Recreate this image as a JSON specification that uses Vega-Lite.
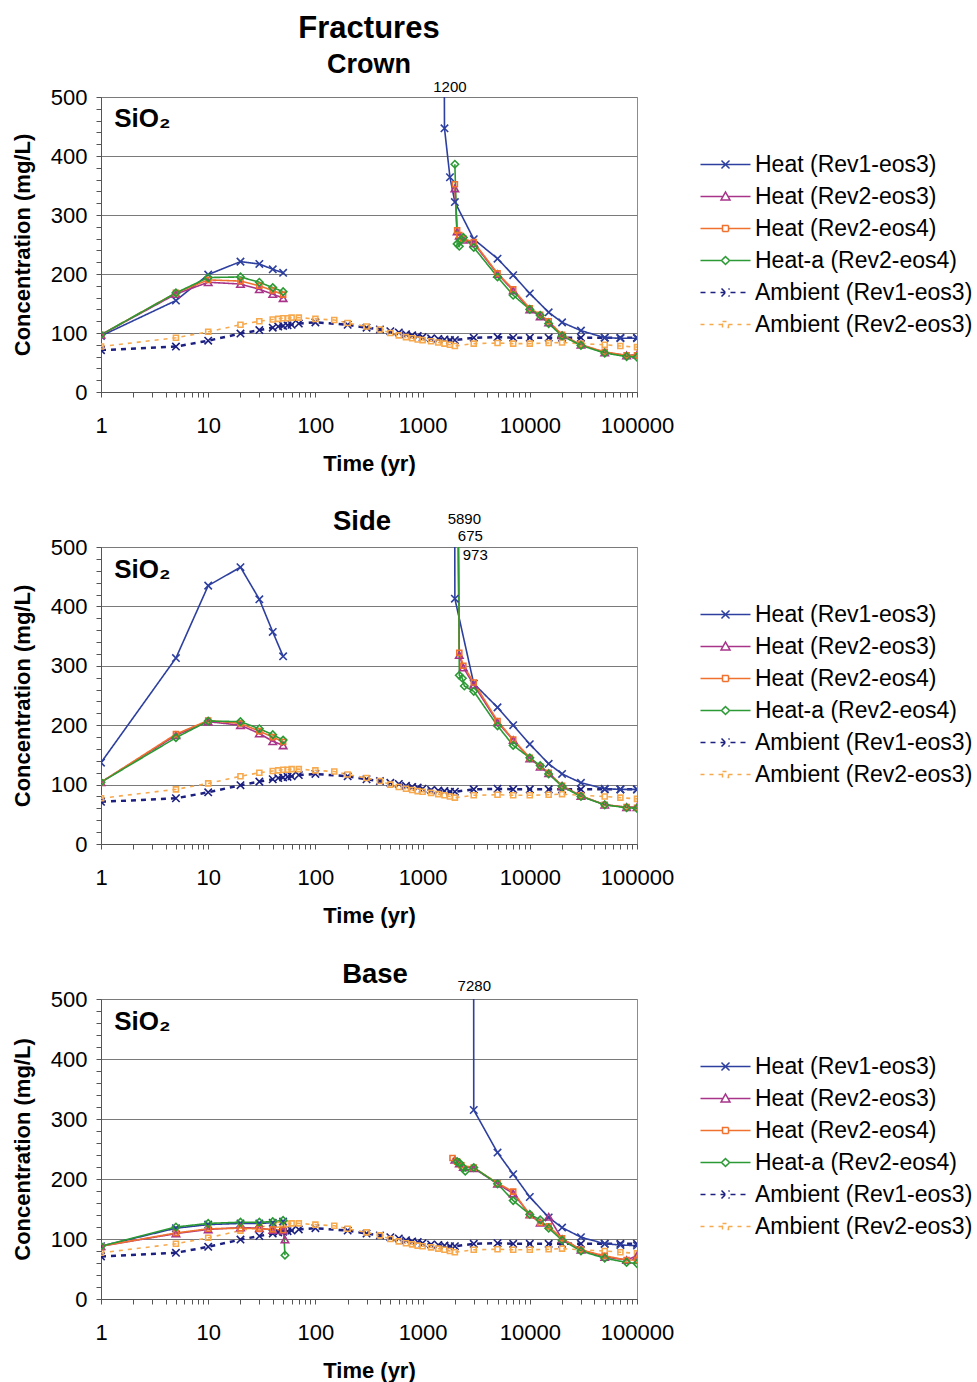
{
"$schema": "https://vega.github.io/schema/vega-lite/v6.json",
"padding": {"left": 10, "top": 12, "right": 0, "bottom": 0},
"background": "white",
"bounds": "flush",
"spacing": 155,
"config": {
  "font": "Liberation Sans",
  "view": {"stroke": "#8c8c8c", "strokeWidth": 1},
  "axis": {"labelFont": "Liberation Sans", "labelFontSize": 22, "labelColor": "#000", "titleFont": "Liberation Sans", "titleFontSize": 22, "titleFontWeight": "bold", "titleColor": "#000", "domainColor": "#555", "tickColor": "#555", "grid": false},
  "title": {"font": "Liberation Sans", "fontWeight": "bold", "color": "#000", "anchor": "middle", "frame": "group", "subtitleFont": "Liberation Sans", "subtitleColor": "#000", "subtitleFontWeight": "bold"},
  "text": {"font": "Liberation Sans", "color": "#000"}
},
"datasets": {
"ann": [
{"p":"crown","t":1800,"c":517,"label":"1200"},
{"p":"side","t":2450,"c":547,"label":"5890"},
{"p":"side","t":2790,"c":518,"label":"675"},
{"p":"side","t":3100,"c":487,"label":"973"},
{"p":"base","t":3035,"c":522,"label":"7280"}
],
"d": [
{"p":"all","s":"Ambient (Rev1-eos3)","g":"a","t":1,"c":71},
{"p":"all","s":"Ambient (Rev1-eos3)","g":"a","t":5,"c":77},
{"p":"all","s":"Ambient (Rev1-eos3)","g":"a","t":10,"c":87},
{"p":"all","s":"Ambient (Rev1-eos3)","g":"a","t":20,"c":99},
{"p":"all","s":"Ambient (Rev1-eos3)","g":"a","t":30,"c":105},
{"p":"all","s":"Ambient (Rev1-eos3)","g":"a","t":40,"c":109},
{"p":"all","s":"Ambient (Rev1-eos3)","g":"a","t":45,"c":111},
{"p":"all","s":"Ambient (Rev1-eos3)","g":"a","t":50,"c":112},
{"p":"all","s":"Ambient (Rev1-eos3)","g":"a","t":55,"c":113},
{"p":"all","s":"Ambient (Rev1-eos3)","g":"a","t":60,"c":114},
{"p":"all","s":"Ambient (Rev1-eos3)","g":"a","t":70,"c":116},
{"p":"all","s":"Ambient (Rev1-eos3)","g":"a","t":100,"c":118},
{"p":"all","s":"Ambient (Rev1-eos3)","g":"a","t":200,"c":114},
{"p":"all","s":"Ambient (Rev1-eos3)","g":"a","t":300,"c":109},
{"p":"all","s":"Ambient (Rev1-eos3)","g":"a","t":400,"c":106},
{"p":"all","s":"Ambient (Rev1-eos3)","g":"a","t":500,"c":103},
{"p":"all","s":"Ambient (Rev1-eos3)","g":"a","t":600,"c":101},
{"p":"all","s":"Ambient (Rev1-eos3)","g":"a","t":700,"c":98},
{"p":"all","s":"Ambient (Rev1-eos3)","g":"a","t":800,"c":96},
{"p":"all","s":"Ambient (Rev1-eos3)","g":"a","t":900,"c":95},
{"p":"all","s":"Ambient (Rev1-eos3)","g":"a","t":1000,"c":93},
{"p":"all","s":"Ambient (Rev1-eos3)","g":"a","t":1200,"c":91},
{"p":"all","s":"Ambient (Rev1-eos3)","g":"a","t":1400,"c":90},
{"p":"all","s":"Ambient (Rev1-eos3)","g":"a","t":1600,"c":89},
{"p":"all","s":"Ambient (Rev1-eos3)","g":"a","t":1800,"c":88},
{"p":"all","s":"Ambient (Rev1-eos3)","g":"a","t":2000,"c":88},
{"p":"all","s":"Ambient (Rev1-eos3)","g":"a","t":3000,"c":92},
{"p":"all","s":"Ambient (Rev1-eos3)","g":"a","t":5000,"c":93},
{"p":"all","s":"Ambient (Rev1-eos3)","g":"a","t":7000,"c":92},
{"p":"all","s":"Ambient (Rev1-eos3)","g":"a","t":10000,"c":92},
{"p":"all","s":"Ambient (Rev1-eos3)","g":"a","t":15000,"c":92},
{"p":"all","s":"Ambient (Rev1-eos3)","g":"a","t":20000,"c":92},
{"p":"all","s":"Ambient (Rev1-eos3)","g":"a","t":30000,"c":92},
{"p":"all","s":"Ambient (Rev1-eos3)","g":"a","t":50000,"c":92},
{"p":"all","s":"Ambient (Rev1-eos3)","g":"a","t":70000,"c":92},
{"p":"all","s":"Ambient (Rev1-eos3)","g":"a","t":100000,"c":92},
{"p":"all","s":"Ambient (Rev2-eos3)","g":"a","t":1,"c":77},
{"p":"all","s":"Ambient (Rev2-eos3)","g":"a","t":5,"c":92},
{"p":"all","s":"Ambient (Rev2-eos3)","g":"a","t":10,"c":102},
{"p":"all","s":"Ambient (Rev2-eos3)","g":"a","t":20,"c":114},
{"p":"all","s":"Ambient (Rev2-eos3)","g":"a","t":30,"c":120},
{"p":"all","s":"Ambient (Rev2-eos3)","g":"a","t":40,"c":123},
{"p":"all","s":"Ambient (Rev2-eos3)","g":"a","t":45,"c":124},
{"p":"all","s":"Ambient (Rev2-eos3)","g":"a","t":50,"c":125},
{"p":"all","s":"Ambient (Rev2-eos3)","g":"a","t":55,"c":125},
{"p":"all","s":"Ambient (Rev2-eos3)","g":"a","t":60,"c":126},
{"p":"all","s":"Ambient (Rev2-eos3)","g":"a","t":70,"c":126},
{"p":"all","s":"Ambient (Rev2-eos3)","g":"a","t":100,"c":124},
{"p":"all","s":"Ambient (Rev2-eos3)","g":"a","t":150,"c":122},
{"p":"all","s":"Ambient (Rev2-eos3)","g":"a","t":200,"c":117},
{"p":"all","s":"Ambient (Rev2-eos3)","g":"a","t":300,"c":111},
{"p":"all","s":"Ambient (Rev2-eos3)","g":"a","t":400,"c":106},
{"p":"all","s":"Ambient (Rev2-eos3)","g":"a","t":500,"c":100},
{"p":"all","s":"Ambient (Rev2-eos3)","g":"a","t":600,"c":96},
{"p":"all","s":"Ambient (Rev2-eos3)","g":"a","t":700,"c":93},
{"p":"all","s":"Ambient (Rev2-eos3)","g":"a","t":800,"c":91},
{"p":"all","s":"Ambient (Rev2-eos3)","g":"a","t":900,"c":89},
{"p":"all","s":"Ambient (Rev2-eos3)","g":"a","t":1000,"c":88},
{"p":"all","s":"Ambient (Rev2-eos3)","g":"a","t":1200,"c":86},
{"p":"all","s":"Ambient (Rev2-eos3)","g":"a","t":1400,"c":84},
{"p":"all","s":"Ambient (Rev2-eos3)","g":"a","t":1600,"c":82},
{"p":"all","s":"Ambient (Rev2-eos3)","g":"a","t":1800,"c":80},
{"p":"all","s":"Ambient (Rev2-eos3)","g":"a","t":2000,"c":78},
{"p":"all","s":"Ambient (Rev2-eos3)","g":"a","t":3000,"c":82},
{"p":"all","s":"Ambient (Rev2-eos3)","g":"a","t":5000,"c":83},
{"p":"all","s":"Ambient (Rev2-eos3)","g":"a","t":7000,"c":82},
{"p":"all","s":"Ambient (Rev2-eos3)","g":"a","t":10000,"c":82},
{"p":"all","s":"Ambient (Rev2-eos3)","g":"a","t":15000,"c":83},
{"p":"all","s":"Ambient (Rev2-eos3)","g":"a","t":20000,"c":84},
{"p":"all","s":"Ambient (Rev2-eos3)","g":"a","t":30000,"c":82},
{"p":"all","s":"Ambient (Rev2-eos3)","g":"a","t":50000,"c":80},
{"p":"all","s":"Ambient (Rev2-eos3)","g":"a","t":70000,"c":78},
{"p":"all","s":"Ambient (Rev2-eos3)","g":"a","t":100000,"c":76},

{"p":"crown","s":"Heat (Rev1-eos3)","g":"a","t":1,"c":95},
{"p":"crown","s":"Heat (Rev1-eos3)","g":"a","t":5,"c":155},
{"p":"crown","s":"Heat (Rev1-eos3)","g":"a","t":10,"c":199},
{"p":"crown","s":"Heat (Rev1-eos3)","g":"a","t":20,"c":221},
{"p":"crown","s":"Heat (Rev1-eos3)","g":"a","t":30,"c":217},
{"p":"crown","s":"Heat (Rev1-eos3)","g":"a","t":40,"c":208},
{"p":"crown","s":"Heat (Rev1-eos3)","g":"a","t":50,"c":202},
{"p":"crown","s":"Heat (Rev1-eos3)","g":"b","t":1550,"c":1200},
{"p":"crown","s":"Heat (Rev1-eos3)","g":"b","t":1600,"c":447},
{"p":"crown","s":"Heat (Rev1-eos3)","g":"b","t":1800,"c":364},
{"p":"crown","s":"Heat (Rev1-eos3)","g":"b","t":2000,"c":322},
{"p":"crown","s":"Heat (Rev1-eos3)","g":"b","t":3000,"c":259},
{"p":"crown","s":"Heat (Rev1-eos3)","g":"b","t":5000,"c":226},
{"p":"crown","s":"Heat (Rev1-eos3)","g":"b","t":7000,"c":198},
{"p":"crown","s":"Heat (Rev1-eos3)","g":"b","t":10000,"c":167},
{"p":"crown","s":"Heat (Rev1-eos3)","g":"b","t":15000,"c":135},
{"p":"crown","s":"Heat (Rev1-eos3)","g":"b","t":20000,"c":118},
{"p":"crown","s":"Heat (Rev1-eos3)","g":"b","t":30000,"c":104},
{"p":"crown","s":"Heat (Rev1-eos3)","g":"b","t":50000,"c":92},
{"p":"crown","s":"Heat (Rev1-eos3)","g":"b","t":70000,"c":91},
{"p":"crown","s":"Heat (Rev1-eos3)","g":"b","t":100000,"c":91},
{"p":"crown","s":"Heat (Rev2-eos3)","g":"a","t":1,"c":97},
{"p":"crown","s":"Heat (Rev2-eos3)","g":"a","t":5,"c":166},
{"p":"crown","s":"Heat (Rev2-eos3)","g":"a","t":10,"c":186},
{"p":"crown","s":"Heat (Rev2-eos3)","g":"a","t":20,"c":183},
{"p":"crown","s":"Heat (Rev2-eos3)","g":"a","t":30,"c":174},
{"p":"crown","s":"Heat (Rev2-eos3)","g":"a","t":40,"c":166},
{"p":"crown","s":"Heat (Rev2-eos3)","g":"a","t":50,"c":159},
{"p":"crown","s":"Heat (Rev2-eos3)","g":"b","t":2000,"c":345},
{"p":"crown","s":"Heat (Rev2-eos3)","g":"b","t":2100,"c":272},
{"p":"crown","s":"Heat (Rev2-eos3)","g":"b","t":2200,"c":265},
{"p":"crown","s":"Heat (Rev2-eos3)","g":"b","t":2400,"c":258},
{"p":"crown","s":"Heat (Rev2-eos3)","g":"b","t":3000,"c":252},
{"p":"crown","s":"Heat (Rev2-eos3)","g":"b","t":5000,"c":200},
{"p":"crown","s":"Heat (Rev2-eos3)","g":"b","t":7000,"c":172},
{"p":"crown","s":"Heat (Rev2-eos3)","g":"b","t":10000,"c":140},
{"p":"crown","s":"Heat (Rev2-eos3)","g":"b","t":12500,"c":128},
{"p":"crown","s":"Heat (Rev2-eos3)","g":"b","t":15000,"c":118},
{"p":"crown","s":"Heat (Rev2-eos3)","g":"b","t":20000,"c":96},
{"p":"crown","s":"Heat (Rev2-eos3)","g":"b","t":30000,"c":80},
{"p":"crown","s":"Heat (Rev2-eos3)","g":"b","t":50000,"c":67},
{"p":"crown","s":"Heat (Rev2-eos3)","g":"b","t":80000,"c":62},
{"p":"crown","s":"Heat (Rev2-eos3)","g":"b","t":100000,"c":63},
{"p":"crown","s":"Heat (Rev2-eos4)","g":"a","t":1,"c":97},
{"p":"crown","s":"Heat (Rev2-eos4)","g":"a","t":5,"c":168},
{"p":"crown","s":"Heat (Rev2-eos4)","g":"a","t":10,"c":190},
{"p":"crown","s":"Heat (Rev2-eos4)","g":"a","t":20,"c":188},
{"p":"crown","s":"Heat (Rev2-eos4)","g":"a","t":30,"c":180},
{"p":"crown","s":"Heat (Rev2-eos4)","g":"a","t":40,"c":172},
{"p":"crown","s":"Heat (Rev2-eos4)","g":"a","t":50,"c":165},
{"p":"crown","s":"Heat (Rev2-eos4)","g":"b","t":2000,"c":352},
{"p":"crown","s":"Heat (Rev2-eos4)","g":"b","t":2100,"c":274},
{"p":"crown","s":"Heat (Rev2-eos4)","g":"b","t":2200,"c":266},
{"p":"crown","s":"Heat (Rev2-eos4)","g":"b","t":2400,"c":260},
{"p":"crown","s":"Heat (Rev2-eos4)","g":"b","t":3000,"c":254},
{"p":"crown","s":"Heat (Rev2-eos4)","g":"b","t":5000,"c":201},
{"p":"crown","s":"Heat (Rev2-eos4)","g":"b","t":7000,"c":174},
{"p":"crown","s":"Heat (Rev2-eos4)","g":"b","t":10000,"c":142},
{"p":"crown","s":"Heat (Rev2-eos4)","g":"b","t":12500,"c":131},
{"p":"crown","s":"Heat (Rev2-eos4)","g":"b","t":15000,"c":120},
{"p":"crown","s":"Heat (Rev2-eos4)","g":"b","t":20000,"c":97},
{"p":"crown","s":"Heat (Rev2-eos4)","g":"b","t":30000,"c":80},
{"p":"crown","s":"Heat (Rev2-eos4)","g":"b","t":50000,"c":68},
{"p":"crown","s":"Heat (Rev2-eos4)","g":"b","t":80000,"c":62},
{"p":"crown","s":"Heat (Rev2-eos4)","g":"b","t":100000,"c":62},
{"p":"crown","s":"Heat-a (Rev2-eos4)","g":"a","t":1,"c":97},
{"p":"crown","s":"Heat-a (Rev2-eos4)","g":"a","t":5,"c":168},
{"p":"crown","s":"Heat-a (Rev2-eos4)","g":"a","t":10,"c":194},
{"p":"crown","s":"Heat-a (Rev2-eos4)","g":"a","t":20,"c":195},
{"p":"crown","s":"Heat-a (Rev2-eos4)","g":"a","t":30,"c":186},
{"p":"crown","s":"Heat-a (Rev2-eos4)","g":"a","t":40,"c":177},
{"p":"crown","s":"Heat-a (Rev2-eos4)","g":"a","t":50,"c":170},
{"p":"crown","s":"Heat-a (Rev2-eos4)","g":"b","t":2000,"c":386},
{"p":"crown","s":"Heat-a (Rev2-eos4)","g":"b","t":2100,"c":251},
{"p":"crown","s":"Heat-a (Rev2-eos4)","g":"b","t":2200,"c":247},
{"p":"crown","s":"Heat-a (Rev2-eos4)","g":"b","t":2300,"c":258},
{"p":"crown","s":"Heat-a (Rev2-eos4)","g":"b","t":2400,"c":262},
{"p":"crown","s":"Heat-a (Rev2-eos4)","g":"b","t":3000,"c":245},
{"p":"crown","s":"Heat-a (Rev2-eos4)","g":"b","t":5000,"c":195},
{"p":"crown","s":"Heat-a (Rev2-eos4)","g":"b","t":7000,"c":164},
{"p":"crown","s":"Heat-a (Rev2-eos4)","g":"b","t":10000,"c":140},
{"p":"crown","s":"Heat-a (Rev2-eos4)","g":"b","t":12500,"c":130},
{"p":"crown","s":"Heat-a (Rev2-eos4)","g":"b","t":15000,"c":116},
{"p":"crown","s":"Heat-a (Rev2-eos4)","g":"b","t":20000,"c":95},
{"p":"crown","s":"Heat-a (Rev2-eos4)","g":"b","t":30000,"c":79},
{"p":"crown","s":"Heat-a (Rev2-eos4)","g":"b","t":50000,"c":66},
{"p":"crown","s":"Heat-a (Rev2-eos4)","g":"b","t":80000,"c":60},
{"p":"crown","s":"Heat-a (Rev2-eos4)","g":"b","t":100000,"c":59},

{"p":"side","s":"Heat (Rev1-eos3)","g":"a","t":1,"c":137},
{"p":"side","s":"Heat (Rev1-eos3)","g":"a","t":5,"c":313},
{"p":"side","s":"Heat (Rev1-eos3)","g":"a","t":10,"c":435},
{"p":"side","s":"Heat (Rev1-eos3)","g":"a","t":20,"c":466},
{"p":"side","s":"Heat (Rev1-eos3)","g":"a","t":30,"c":412},
{"p":"side","s":"Heat (Rev1-eos3)","g":"a","t":40,"c":357},
{"p":"side","s":"Heat (Rev1-eos3)","g":"a","t":50,"c":316},
{"p":"side","s":"Heat (Rev1-eos3)","g":"b","t":1800,"c":5890},
{"p":"side","s":"Heat (Rev1-eos3)","g":"b","t":2000,"c":413},
{"p":"side","s":"Heat (Rev1-eos3)","g":"b","t":3000,"c":270},
{"p":"side","s":"Heat (Rev1-eos3)","g":"b","t":5000,"c":230},
{"p":"side","s":"Heat (Rev1-eos3)","g":"b","t":7000,"c":200},
{"p":"side","s":"Heat (Rev1-eos3)","g":"b","t":10000,"c":168},
{"p":"side","s":"Heat (Rev1-eos3)","g":"b","t":15000,"c":135},
{"p":"side","s":"Heat (Rev1-eos3)","g":"b","t":20000,"c":118},
{"p":"side","s":"Heat (Rev1-eos3)","g":"b","t":30000,"c":103},
{"p":"side","s":"Heat (Rev1-eos3)","g":"b","t":50000,"c":93},
{"p":"side","s":"Heat (Rev1-eos3)","g":"b","t":70000,"c":92},
{"p":"side","s":"Heat (Rev1-eos3)","g":"b","t":100000,"c":92},
{"p":"side","s":"Heat (Rev2-eos3)","g":"a","t":1,"c":104},
{"p":"side","s":"Heat (Rev2-eos3)","g":"a","t":5,"c":183},
{"p":"side","s":"Heat (Rev2-eos3)","g":"a","t":10,"c":206},
{"p":"side","s":"Heat (Rev2-eos3)","g":"a","t":20,"c":200},
{"p":"side","s":"Heat (Rev2-eos3)","g":"a","t":30,"c":186},
{"p":"side","s":"Heat (Rev2-eos3)","g":"a","t":40,"c":173},
{"p":"side","s":"Heat (Rev2-eos3)","g":"a","t":50,"c":166},
{"p":"side","s":"Heat (Rev2-eos3)","g":"b","t":2100,"c":675},
{"p":"side","s":"Heat (Rev2-eos3)","g":"b","t":2200,"c":318},
{"p":"side","s":"Heat (Rev2-eos3)","g":"b","t":2400,"c":297},
{"p":"side","s":"Heat (Rev2-eos3)","g":"b","t":3000,"c":268},
{"p":"side","s":"Heat (Rev2-eos3)","g":"b","t":5000,"c":205},
{"p":"side","s":"Heat (Rev2-eos3)","g":"b","t":7000,"c":175},
{"p":"side","s":"Heat (Rev2-eos3)","g":"b","t":10000,"c":144},
{"p":"side","s":"Heat (Rev2-eos3)","g":"b","t":12500,"c":130},
{"p":"side","s":"Heat (Rev2-eos3)","g":"b","t":15000,"c":119},
{"p":"side","s":"Heat (Rev2-eos3)","g":"b","t":20000,"c":98},
{"p":"side","s":"Heat (Rev2-eos3)","g":"b","t":30000,"c":81},
{"p":"side","s":"Heat (Rev2-eos3)","g":"b","t":50000,"c":66},
{"p":"side","s":"Heat (Rev2-eos3)","g":"b","t":80000,"c":62},
{"p":"side","s":"Heat (Rev2-eos3)","g":"b","t":100000,"c":62},
{"p":"side","s":"Heat (Rev2-eos4)","g":"a","t":1,"c":104},
{"p":"side","s":"Heat (Rev2-eos4)","g":"a","t":5,"c":185},
{"p":"side","s":"Heat (Rev2-eos4)","g":"a","t":10,"c":208},
{"p":"side","s":"Heat (Rev2-eos4)","g":"a","t":20,"c":203},
{"p":"side","s":"Heat (Rev2-eos4)","g":"a","t":30,"c":190},
{"p":"side","s":"Heat (Rev2-eos4)","g":"a","t":40,"c":180},
{"p":"side","s":"Heat (Rev2-eos4)","g":"a","t":50,"c":172},
{"p":"side","s":"Heat (Rev2-eos4)","g":"b","t":2100,"c":660},
{"p":"side","s":"Heat (Rev2-eos4)","g":"b","t":2200,"c":322},
{"p":"side","s":"Heat (Rev2-eos4)","g":"b","t":2400,"c":300},
{"p":"side","s":"Heat (Rev2-eos4)","g":"b","t":3000,"c":272},
{"p":"side","s":"Heat (Rev2-eos4)","g":"b","t":5000,"c":207},
{"p":"side","s":"Heat (Rev2-eos4)","g":"b","t":7000,"c":176},
{"p":"side","s":"Heat (Rev2-eos4)","g":"b","t":10000,"c":145},
{"p":"side","s":"Heat (Rev2-eos4)","g":"b","t":12500,"c":131},
{"p":"side","s":"Heat (Rev2-eos4)","g":"b","t":15000,"c":120},
{"p":"side","s":"Heat (Rev2-eos4)","g":"b","t":20000,"c":98},
{"p":"side","s":"Heat (Rev2-eos4)","g":"b","t":30000,"c":81},
{"p":"side","s":"Heat (Rev2-eos4)","g":"b","t":50000,"c":66},
{"p":"side","s":"Heat (Rev2-eos4)","g":"b","t":80000,"c":62},
{"p":"side","s":"Heat (Rev2-eos4)","g":"b","t":100000,"c":61},
{"p":"side","s":"Heat-a (Rev2-eos4)","g":"a","t":1,"c":104},
{"p":"side","s":"Heat-a (Rev2-eos4)","g":"a","t":5,"c":179},
{"p":"side","s":"Heat-a (Rev2-eos4)","g":"a","t":10,"c":207},
{"p":"side","s":"Heat-a (Rev2-eos4)","g":"a","t":20,"c":206},
{"p":"side","s":"Heat-a (Rev2-eos4)","g":"a","t":30,"c":194},
{"p":"side","s":"Heat-a (Rev2-eos4)","g":"a","t":40,"c":184},
{"p":"side","s":"Heat-a (Rev2-eos4)","g":"a","t":50,"c":175},
{"p":"side","s":"Heat-a (Rev2-eos4)","g":"b","t":2100,"c":973},
{"p":"side","s":"Heat-a (Rev2-eos4)","g":"b","t":2200,"c":284},
{"p":"side","s":"Heat-a (Rev2-eos4)","g":"b","t":2350,"c":279},
{"p":"side","s":"Heat-a (Rev2-eos4)","g":"b","t":2450,"c":266},
{"p":"side","s":"Heat-a (Rev2-eos4)","g":"b","t":3000,"c":257},
{"p":"side","s":"Heat-a (Rev2-eos4)","g":"b","t":5000,"c":199},
{"p":"side","s":"Heat-a (Rev2-eos4)","g":"b","t":7000,"c":166},
{"p":"side","s":"Heat-a (Rev2-eos4)","g":"b","t":10000,"c":145},
{"p":"side","s":"Heat-a (Rev2-eos4)","g":"b","t":12500,"c":132},
{"p":"side","s":"Heat-a (Rev2-eos4)","g":"b","t":15000,"c":118},
{"p":"side","s":"Heat-a (Rev2-eos4)","g":"b","t":20000,"c":97},
{"p":"side","s":"Heat-a (Rev2-eos4)","g":"b","t":30000,"c":80},
{"p":"side","s":"Heat-a (Rev2-eos4)","g":"b","t":50000,"c":66},
{"p":"side","s":"Heat-a (Rev2-eos4)","g":"b","t":80000,"c":61},
{"p":"side","s":"Heat-a (Rev2-eos4)","g":"b","t":100000,"c":60},

{"p":"base","s":"Heat (Rev1-eos3)","g":"a","t":1,"c":88},
{"p":"base","s":"Heat (Rev1-eos3)","g":"a","t":5,"c":118},
{"p":"base","s":"Heat (Rev1-eos3)","g":"a","t":10,"c":124},
{"p":"base","s":"Heat (Rev1-eos3)","g":"a","t":20,"c":126},
{"p":"base","s":"Heat (Rev1-eos3)","g":"a","t":30,"c":126},
{"p":"base","s":"Heat (Rev1-eos3)","g":"a","t":40,"c":127},
{"p":"base","s":"Heat (Rev1-eos3)","g":"a","t":50,"c":129},
{"p":"base","s":"Heat (Rev1-eos3)","g":"b","t":2850,"c":7280},
{"p":"base","s":"Heat (Rev1-eos3)","g":"b","t":3000,"c":315},
{"p":"base","s":"Heat (Rev1-eos3)","g":"b","t":5000,"c":244},
{"p":"base","s":"Heat (Rev1-eos3)","g":"b","t":7000,"c":208},
{"p":"base","s":"Heat (Rev1-eos3)","g":"b","t":10000,"c":170},
{"p":"base","s":"Heat (Rev1-eos3)","g":"b","t":15000,"c":136},
{"p":"base","s":"Heat (Rev1-eos3)","g":"b","t":20000,"c":119},
{"p":"base","s":"Heat (Rev1-eos3)","g":"b","t":30000,"c":103},
{"p":"base","s":"Heat (Rev1-eos3)","g":"b","t":50000,"c":92},
{"p":"base","s":"Heat (Rev1-eos3)","g":"b","t":70000,"c":90},
{"p":"base","s":"Heat (Rev1-eos3)","g":"b","t":100000,"c":89},
{"p":"base","s":"Heat (Rev2-eos3)","g":"a","t":1,"c":88},
{"p":"base","s":"Heat (Rev2-eos3)","g":"a","t":5,"c":109},
{"p":"base","s":"Heat (Rev2-eos3)","g":"a","t":10,"c":116},
{"p":"base","s":"Heat (Rev2-eos3)","g":"a","t":20,"c":119},
{"p":"base","s":"Heat (Rev2-eos3)","g":"a","t":30,"c":118},
{"p":"base","s":"Heat (Rev2-eos3)","g":"a","t":40,"c":115},
{"p":"base","s":"Heat (Rev2-eos3)","g":"a","t":50,"c":114},
{"p":"base","s":"Heat (Rev2-eos3)","g":"a","t":52,"c":99},
{"p":"base","s":"Heat (Rev2-eos3)","g":"b","t":2000,"c":232},
{"p":"base","s":"Heat (Rev2-eos3)","g":"b","t":2200,"c":226},
{"p":"base","s":"Heat (Rev2-eos3)","g":"b","t":2400,"c":220},
{"p":"base","s":"Heat (Rev2-eos3)","g":"b","t":3000,"c":218},
{"p":"base","s":"Heat (Rev2-eos3)","g":"b","t":5000,"c":192},
{"p":"base","s":"Heat (Rev2-eos3)","g":"b","t":7000,"c":176},
{"p":"base","s":"Heat (Rev2-eos3)","g":"b","t":10000,"c":141},
{"p":"base","s":"Heat (Rev2-eos3)","g":"b","t":12500,"c":127},
{"p":"base","s":"Heat (Rev2-eos3)","g":"b","t":15000,"c":137},
{"p":"base","s":"Heat (Rev2-eos3)","g":"b","t":20000,"c":100},
{"p":"base","s":"Heat (Rev2-eos3)","g":"b","t":30000,"c":82},
{"p":"base","s":"Heat (Rev2-eos3)","g":"b","t":50000,"c":70},
{"p":"base","s":"Heat (Rev2-eos3)","g":"b","t":80000,"c":65},
{"p":"base","s":"Heat (Rev2-eos3)","g":"b","t":100000,"c":72},
{"p":"base","s":"Heat (Rev2-eos4)","g":"a","t":1,"c":88},
{"p":"base","s":"Heat (Rev2-eos4)","g":"a","t":5,"c":110},
{"p":"base","s":"Heat (Rev2-eos4)","g":"a","t":10,"c":117},
{"p":"base","s":"Heat (Rev2-eos4)","g":"a","t":20,"c":118},
{"p":"base","s":"Heat (Rev2-eos4)","g":"a","t":30,"c":117},
{"p":"base","s":"Heat (Rev2-eos4)","g":"a","t":40,"c":116},
{"p":"base","s":"Heat (Rev2-eos4)","g":"a","t":50,"c":115},
{"p":"base","s":"Heat (Rev2-eos4)","g":"b","t":1900,"c":235},
{"p":"base","s":"Heat (Rev2-eos4)","g":"b","t":2100,"c":229},
{"p":"base","s":"Heat (Rev2-eos4)","g":"b","t":2300,"c":223},
{"p":"base","s":"Heat (Rev2-eos4)","g":"b","t":3000,"c":219},
{"p":"base","s":"Heat (Rev2-eos4)","g":"b","t":5000,"c":193},
{"p":"base","s":"Heat (Rev2-eos4)","g":"b","t":7000,"c":179},
{"p":"base","s":"Heat (Rev2-eos4)","g":"b","t":10000,"c":140},
{"p":"base","s":"Heat (Rev2-eos4)","g":"b","t":12500,"c":127},
{"p":"base","s":"Heat (Rev2-eos4)","g":"b","t":15000,"c":121},
{"p":"base","s":"Heat (Rev2-eos4)","g":"b","t":20000,"c":101},
{"p":"base","s":"Heat (Rev2-eos4)","g":"b","t":30000,"c":82},
{"p":"base","s":"Heat (Rev2-eos4)","g":"b","t":50000,"c":72},
{"p":"base","s":"Heat (Rev2-eos4)","g":"b","t":80000,"c":65},
{"p":"base","s":"Heat (Rev2-eos4)","g":"b","t":100000,"c":65},
{"p":"base","s":"Heat-a (Rev2-eos4)","g":"a","t":1,"c":88},
{"p":"base","s":"Heat-a (Rev2-eos4)","g":"a","t":5,"c":120},
{"p":"base","s":"Heat-a (Rev2-eos4)","g":"a","t":10,"c":126},
{"p":"base","s":"Heat-a (Rev2-eos4)","g":"a","t":20,"c":128},
{"p":"base","s":"Heat-a (Rev2-eos4)","g":"a","t":30,"c":128},
{"p":"base","s":"Heat-a (Rev2-eos4)","g":"a","t":40,"c":129},
{"p":"base","s":"Heat-a (Rev2-eos4)","g":"a","t":50,"c":131},
{"p":"base","s":"Heat-a (Rev2-eos4)","g":"a","t":52,"c":73},
{"p":"base","s":"Heat-a (Rev2-eos4)","g":"b","t":2100,"c":229},
{"p":"base","s":"Heat-a (Rev2-eos4)","g":"b","t":2200,"c":227},
{"p":"base","s":"Heat-a (Rev2-eos4)","g":"b","t":2400,"c":219},
{"p":"base","s":"Heat-a (Rev2-eos4)","g":"b","t":2500,"c":213},
{"p":"base","s":"Heat-a (Rev2-eos4)","g":"b","t":3000,"c":219},
{"p":"base","s":"Heat-a (Rev2-eos4)","g":"b","t":5000,"c":192},
{"p":"base","s":"Heat-a (Rev2-eos4)","g":"b","t":7000,"c":164},
{"p":"base","s":"Heat-a (Rev2-eos4)","g":"b","t":10000,"c":141},
{"p":"base","s":"Heat-a (Rev2-eos4)","g":"b","t":12500,"c":132},
{"p":"base","s":"Heat-a (Rev2-eos4)","g":"b","t":15000,"c":118},
{"p":"base","s":"Heat-a (Rev2-eos4)","g":"b","t":20000,"c":98},
{"p":"base","s":"Heat-a (Rev2-eos4)","g":"b","t":30000,"c":80},
{"p":"base","s":"Heat-a (Rev2-eos4)","g":"b","t":50000,"c":68},
{"p":"base","s":"Heat-a (Rev2-eos4)","g":"b","t":80000,"c":61},
{"p":"base","s":"Heat-a (Rev2-eos4)","g":"b","t":100000,"c":59}
]
},
"vconcat": [
{
"title": {"text": "Fractures", "subtitle": "Crown", "fontSize": 31, "subtitleFontSize": 27, "subtitlePadding": 7, "offset": 1},
"width": 536, "height": 295,
"encoding": {
  "x": {"field": "t", "type": "quantitative", "scale": {"type": "log", "domain": [1, 100000], "nice": false}, "axis": {"title": "Time (yr)", "values": [1,2,3,4,5,6,7,8,9,10,20,30,40,50,60,70,80,90,100,200,300,400,500,600,700,800,900,1000,2000,3000,4000,5000,6000,7000,8000,9000,10000,20000,30000,40000,50000,60000,70000,80000,90000,100000], "labelExpr": "indexof([1,10,100,1000,10000,100000], datum.value) >= 0 ? format(datum.value, 'd') : ''", "labelOverlap": false, "labelFlush": false, "tickSize": 5, "labelPadding": 18, "titlePadding": 17}},
  "y": {"field": "c", "type": "quantitative", "scale": {"domain": [0, 500], "nice": false, "zero": true}, "axis": {"title": "Concentration (mg/L)", "values": [0,20,40,60,80,100,120,140,160,180,200,220,240,260,280,300,320,340,360,380,400,420,440,460,480,500], "labelExpr": "datum.value % 100 == 0 ? datum.label : ''", "grid": true, "gridColor": "#7a7a7a", "gridOpacity": {"condition": {"test": "datum.value % 100 == 0", "value": 1}, "value": 0}, "tickSize": 5, "labelPadding": 9, "titlePadding": 16, "labelOverlap": false}}
},
"layer": [
  {"data": {"name": "d"}, "transform": [{"filter": "datum.p == 'crown' || datum.p == 'all'"}],
   "mark": {"type": "line", "clip": true},
   "encoding": {
     "color": {"field": "s", "type": "nominal", "scale": {"domain": ["Heat (Rev1-eos3)", "Heat (Rev2-eos3)", "Heat (Rev2-eos4)", "Heat-a (Rev2-eos4)", "Ambient (Rev1-eos3)", "Ambient (Rev2-eos3)"], "range": ["#2d3f9f", "#a8348a", "#f0702e", "#2b9a34", "#1c2080", "#f7a94d"]},
       "legend": {"title": null, "orient": "none", "legendX": 593, "legendY": 56, "labelFontSize": 23, "labelFont": "Liberation Sans", "labelColor": "#000", "labelOffset": 38, "symbolSize": 100, "symbolStrokeWidth": 1.5, "rowPadding": 8, "padding": 0, "labelLimit": 400}},
     "strokeDash": {"field": "s", "type": "nominal", "scale": {"domain": ["Heat (Rev1-eos3)", "Heat (Rev2-eos3)", "Heat (Rev2-eos4)", "Heat-a (Rev2-eos4)", "Ambient (Rev1-eos3)", "Ambient (Rev2-eos3)"], "range": [[1,0],[1,0],[1,0],[1,0],[5,5],[4,5]]},
       "legend": {"title": null, "orient": "none", "legendX": 593, "legendY": 56, "labelFontSize": 23, "labelFont": "Liberation Sans", "labelColor": "#000", "labelOffset": 38, "symbolSize": 100, "symbolStrokeWidth": 1.5, "rowPadding": 8, "padding": 0, "labelLimit": 400}},
     "strokeWidth": {"condition": {"test": "datum.s == 'Ambient (Rev1-eos3)'", "value": 2.5}, "value": 1.6},
     "detail": {"field": "g", "type": "nominal"}
   }},
  {"data": {"name": "d"}, "transform": [{"filter": "datum.p == 'crown' || datum.p == 'all'"}],
   "mark": {"type": "point", "filled": false, "clip": true, "opacity": 1, "strokeWidth": 1.6},
   "encoding": {
     "color": {"field": "s", "type": "nominal"},
     "shape": {"condition": [{"test": "datum.s == 'Heat (Rev2-eos3)'", "value": "triangle-up"}, {"test": "datum.s == 'Heat (Rev2-eos4)' || datum.s == 'Ambient (Rev2-eos3)'", "value": "square"}, {"test": "datum.s == 'Heat-a (Rev2-eos4)'", "value": "diamond"}], "value": "M-1,-1L1,1M-1,1L1,-1"},
     "size": {"condition": {"test": "datum.s == 'Heat (Rev2-eos4)' || datum.s == 'Ambient (Rev2-eos3)'", "value": 25}, "value": 55}
   }},
  {"data": {"name": "d"}, "transform": [{"filter": "false"}],
   "mark": {"type": "point", "filled": false, "clip": true},
   "encoding": {
     "color": {"field": "s", "type": "nominal"},
     "shape": {"field": "s", "type": "nominal", "scale": {"domain": ["Heat (Rev1-eos3)", "Heat (Rev2-eos3)", "Heat (Rev2-eos4)", "Heat-a (Rev2-eos4)", "Ambient (Rev1-eos3)", "Ambient (Rev2-eos3)"], "range": ["M-1,0L9,0M3.2,-0.8L4.8,0.8M3.2,0.8L4.8,-0.8", "M-1,0L3.5,0M4.5,0L9,0M4,-0.9L4.9,0.7L3.1,0.7Z", "M-1,0L3.4,0M4.6,0L9,0M3.4,-0.6L4.6,-0.6L4.6,0.6L3.4,0.6Z", "M-1,0L3.2,0M4.8,0L9,0M4,-0.8L4.8,0L4,0.8L3.2,0Z", "M-1,0L9,0M3.2,-0.8L4.8,0.8M3.2,0.8L4.8,-0.8", "M-1,0L3.4,0M4.6,0L9,0M3.4,-0.6L4.6,-0.6L4.6,0.6L3.4,0.6Z"]},
       "legend": {"title": null, "orient": "none", "legendX": 593, "legendY": 56, "labelFontSize": 23, "labelFont": "Liberation Sans", "labelColor": "#000", "labelOffset": 38, "symbolSize": 100, "symbolStrokeWidth": 1.5, "rowPadding": 8, "padding": 0, "labelLimit": 400}}
   }},
  {"data": {"name": "ann"}, "transform": [{"filter": "datum.p == 'crown'"}],
   "mark": {"type": "text", "fontSize": 15, "baseline": "middle", "align": "center"},
   "encoding": {"text": {"field": "label", "type": "nominal"}}},
  {"data": {"values": [{"t": 1.33, "c": 462, "label": "SiO₂"}]},
   "mark": {"type": "text", "fontSize": 26, "fontWeight": "bold", "baseline": "middle", "align": "left"},
   "encoding": {"text": {"field": "label", "type": "nominal"}}}
]
},
{
"title": {"text": "Side", "fontSize": 27.5, "offset": -23, "dx": -7},
"width": 536, "height": 297,
"encoding": {
  "x": {"field": "t", "type": "quantitative", "scale": {"type": "log", "domain": [1, 100000], "nice": false}, "axis": {"title": "Time (yr)", "values": [1,2,3,4,5,6,7,8,9,10,20,30,40,50,60,70,80,90,100,200,300,400,500,600,700,800,900,1000,2000,3000,4000,5000,6000,7000,8000,9000,10000,20000,30000,40000,50000,60000,70000,80000,90000,100000], "labelExpr": "indexof([1,10,100,1000,10000,100000], datum.value) >= 0 ? format(datum.value, 'd') : ''", "labelOverlap": false, "labelFlush": false, "tickSize": 5, "labelPadding": 18, "titlePadding": 17}},
  "y": {"field": "c", "type": "quantitative", "scale": {"domain": [0, 500], "nice": false, "zero": true}, "axis": {"title": "Concentration (mg/L)", "values": [0,20,40,60,80,100,120,140,160,180,200,220,240,260,280,300,320,340,360,380,400,420,440,460,480,500], "labelExpr": "datum.value % 100 == 0 ? datum.label : ''", "grid": true, "gridColor": "#7a7a7a", "gridOpacity": {"condition": {"test": "datum.value % 100 == 0", "value": 1}, "value": 0}, "tickSize": 5, "labelPadding": 9, "titlePadding": 16, "labelOverlap": false}}
},
"layer": [
  {"data": {"name": "d"}, "transform": [{"filter": "datum.p == 'side' || datum.p == 'all'"}],
   "mark": {"type": "line", "clip": true},
   "encoding": {
     "color": {"field": "s", "type": "nominal", "scale": {"domain": ["Heat (Rev1-eos3)", "Heat (Rev2-eos3)", "Heat (Rev2-eos4)", "Heat-a (Rev2-eos4)", "Ambient (Rev1-eos3)", "Ambient (Rev2-eos3)"], "range": ["#2d3f9f", "#a8348a", "#f0702e", "#2b9a34", "#1c2080", "#f7a94d"]},
       "legend": {"title": null, "orient": "none", "legendX": 593, "legendY": 56, "labelFontSize": 23, "labelFont": "Liberation Sans", "labelColor": "#000", "labelOffset": 38, "symbolSize": 100, "symbolStrokeWidth": 1.5, "rowPadding": 8, "padding": 0, "labelLimit": 400}},
     "strokeDash": {"field": "s", "type": "nominal", "scale": {"domain": ["Heat (Rev1-eos3)", "Heat (Rev2-eos3)", "Heat (Rev2-eos4)", "Heat-a (Rev2-eos4)", "Ambient (Rev1-eos3)", "Ambient (Rev2-eos3)"], "range": [[1,0],[1,0],[1,0],[1,0],[5,5],[4,5]]},
       "legend": {"title": null, "orient": "none", "legendX": 593, "legendY": 56, "labelFontSize": 23, "labelFont": "Liberation Sans", "labelColor": "#000", "labelOffset": 38, "symbolSize": 100, "symbolStrokeWidth": 1.5, "rowPadding": 8, "padding": 0, "labelLimit": 400}},
     "strokeWidth": {"condition": {"test": "datum.s == 'Ambient (Rev1-eos3)'", "value": 2.5}, "value": 1.6},
     "detail": {"field": "g", "type": "nominal"}
   }},
  {"data": {"name": "d"}, "transform": [{"filter": "datum.p == 'side' || datum.p == 'all'"}],
   "mark": {"type": "point", "filled": false, "clip": true, "opacity": 1, "strokeWidth": 1.6},
   "encoding": {
     "color": {"field": "s", "type": "nominal"},
     "shape": {"condition": [{"test": "datum.s == 'Heat (Rev2-eos3)'", "value": "triangle-up"}, {"test": "datum.s == 'Heat (Rev2-eos4)' || datum.s == 'Ambient (Rev2-eos3)'", "value": "square"}, {"test": "datum.s == 'Heat-a (Rev2-eos4)'", "value": "diamond"}], "value": "M-1,-1L1,1M-1,1L1,-1"},
     "size": {"condition": {"test": "datum.s == 'Heat (Rev2-eos4)' || datum.s == 'Ambient (Rev2-eos3)'", "value": 25}, "value": 55}
   }},
  {"data": {"name": "d"}, "transform": [{"filter": "false"}],
   "mark": {"type": "point", "filled": false, "clip": true},
   "encoding": {
     "color": {"field": "s", "type": "nominal"},
     "shape": {"field": "s", "type": "nominal", "scale": {"domain": ["Heat (Rev1-eos3)", "Heat (Rev2-eos3)", "Heat (Rev2-eos4)", "Heat-a (Rev2-eos4)", "Ambient (Rev1-eos3)", "Ambient (Rev2-eos3)"], "range": ["M-1,0L9,0M3.2,-0.8L4.8,0.8M3.2,0.8L4.8,-0.8", "M-1,0L3.5,0M4.5,0L9,0M4,-0.9L4.9,0.7L3.1,0.7Z", "M-1,0L3.4,0M4.6,0L9,0M3.4,-0.6L4.6,-0.6L4.6,0.6L3.4,0.6Z", "M-1,0L3.2,0M4.8,0L9,0M4,-0.8L4.8,0L4,0.8L3.2,0Z", "M-1,0L9,0M3.2,-0.8L4.8,0.8M3.2,0.8L4.8,-0.8", "M-1,0L3.4,0M4.6,0L9,0M3.4,-0.6L4.6,-0.6L4.6,0.6L3.4,0.6Z"]},
       "legend": {"title": null, "orient": "none", "legendX": 593, "legendY": 56, "labelFontSize": 23, "labelFont": "Liberation Sans", "labelColor": "#000", "labelOffset": 38, "symbolSize": 100, "symbolStrokeWidth": 1.5, "rowPadding": 8, "padding": 0, "labelLimit": 400}}
   }},
  {"data": {"name": "ann"}, "transform": [{"filter": "datum.p == 'side'"}],
   "mark": {"type": "text", "fontSize": 15, "baseline": "middle", "align": "center"},
   "encoding": {"text": {"field": "label", "type": "nominal"}}},
  {"data": {"values": [{"t": 1.33, "c": 462, "label": "SiO₂"}]},
   "mark": {"type": "text", "fontSize": 26, "fontWeight": "bold", "baseline": "middle", "align": "left"},
   "encoding": {"text": {"field": "label", "type": "nominal"}}}
]
},
{
"title": {"text": "Base", "fontSize": 27.5, "offset": -10, "dx": 6},
"width": 536, "height": 300,
"encoding": {
  "x": {"field": "t", "type": "quantitative", "scale": {"type": "log", "domain": [1, 100000], "nice": false}, "axis": {"title": "Time (yr)", "values": [1,2,3,4,5,6,7,8,9,10,20,30,40,50,60,70,80,90,100,200,300,400,500,600,700,800,900,1000,2000,3000,4000,5000,6000,7000,8000,9000,10000,20000,30000,40000,50000,60000,70000,80000,90000,100000], "labelExpr": "indexof([1,10,100,1000,10000,100000], datum.value) >= 0 ? format(datum.value, 'd') : ''", "labelOverlap": false, "labelFlush": false, "tickSize": 5, "labelPadding": 18, "titlePadding": 17}},
  "y": {"field": "c", "type": "quantitative", "scale": {"domain": [0, 500], "nice": false, "zero": true}, "axis": {"title": "Concentration (mg/L)", "values": [0,20,40,60,80,100,120,140,160,180,200,220,240,260,280,300,320,340,360,380,400,420,440,460,480,500], "labelExpr": "datum.value % 100 == 0 ? datum.label : ''", "grid": true, "gridColor": "#7a7a7a", "gridOpacity": {"condition": {"test": "datum.value % 100 == 0", "value": 1}, "value": 0}, "tickSize": 5, "labelPadding": 9, "titlePadding": 16, "labelOverlap": false}}
},
"layer": [
  {"data": {"name": "d"}, "transform": [{"filter": "datum.p == 'base' || datum.p == 'all'"}],
   "mark": {"type": "line", "clip": true},
   "encoding": {
     "color": {"field": "s", "type": "nominal", "scale": {"domain": ["Heat (Rev1-eos3)", "Heat (Rev2-eos3)", "Heat (Rev2-eos4)", "Heat-a (Rev2-eos4)", "Ambient (Rev1-eos3)", "Ambient (Rev2-eos3)"], "range": ["#2d3f9f", "#a8348a", "#f0702e", "#2b9a34", "#1c2080", "#f7a94d"]},
       "legend": {"title": null, "orient": "none", "legendX": 593, "legendY": 56, "labelFontSize": 23, "labelFont": "Liberation Sans", "labelColor": "#000", "labelOffset": 38, "symbolSize": 100, "symbolStrokeWidth": 1.5, "rowPadding": 8, "padding": 0, "labelLimit": 400}},
     "strokeDash": {"field": "s", "type": "nominal", "scale": {"domain": ["Heat (Rev1-eos3)", "Heat (Rev2-eos3)", "Heat (Rev2-eos4)", "Heat-a (Rev2-eos4)", "Ambient (Rev1-eos3)", "Ambient (Rev2-eos3)"], "range": [[1,0],[1,0],[1,0],[1,0],[5,5],[4,5]]},
       "legend": {"title": null, "orient": "none", "legendX": 593, "legendY": 56, "labelFontSize": 23, "labelFont": "Liberation Sans", "labelColor": "#000", "labelOffset": 38, "symbolSize": 100, "symbolStrokeWidth": 1.5, "rowPadding": 8, "padding": 0, "labelLimit": 400}},
     "strokeWidth": {"condition": {"test": "datum.s == 'Ambient (Rev1-eos3)'", "value": 2.5}, "value": 1.6},
     "detail": {"field": "g", "type": "nominal"}
   }},
  {"data": {"name": "d"}, "transform": [{"filter": "datum.p == 'base' || datum.p == 'all'"}],
   "mark": {"type": "point", "filled": false, "clip": true, "opacity": 1, "strokeWidth": 1.6},
   "encoding": {
     "color": {"field": "s", "type": "nominal"},
     "shape": {"condition": [{"test": "datum.s == 'Heat (Rev2-eos3)'", "value": "triangle-up"}, {"test": "datum.s == 'Heat (Rev2-eos4)' || datum.s == 'Ambient (Rev2-eos3)'", "value": "square"}, {"test": "datum.s == 'Heat-a (Rev2-eos4)'", "value": "diamond"}], "value": "M-1,-1L1,1M-1,1L1,-1"},
     "size": {"condition": {"test": "datum.s == 'Heat (Rev2-eos4)' || datum.s == 'Ambient (Rev2-eos3)'", "value": 25}, "value": 55}
   }},
  {"data": {"name": "d"}, "transform": [{"filter": "false"}],
   "mark": {"type": "point", "filled": false, "clip": true},
   "encoding": {
     "color": {"field": "s", "type": "nominal"},
     "shape": {"field": "s", "type": "nominal", "scale": {"domain": ["Heat (Rev1-eos3)", "Heat (Rev2-eos3)", "Heat (Rev2-eos4)", "Heat-a (Rev2-eos4)", "Ambient (Rev1-eos3)", "Ambient (Rev2-eos3)"], "range": ["M-1,0L9,0M3.2,-0.8L4.8,0.8M3.2,0.8L4.8,-0.8", "M-1,0L3.5,0M4.5,0L9,0M4,-0.9L4.9,0.7L3.1,0.7Z", "M-1,0L3.4,0M4.6,0L9,0M3.4,-0.6L4.6,-0.6L4.6,0.6L3.4,0.6Z", "M-1,0L3.2,0M4.8,0L9,0M4,-0.8L4.8,0L4,0.8L3.2,0Z", "M-1,0L9,0M3.2,-0.8L4.8,0.8M3.2,0.8L4.8,-0.8", "M-1,0L3.4,0M4.6,0L9,0M3.4,-0.6L4.6,-0.6L4.6,0.6L3.4,0.6Z"]},
       "legend": {"title": null, "orient": "none", "legendX": 593, "legendY": 56, "labelFontSize": 23, "labelFont": "Liberation Sans", "labelColor": "#000", "labelOffset": 38, "symbolSize": 100, "symbolStrokeWidth": 1.5, "rowPadding": 8, "padding": 0, "labelLimit": 400}}
   }},
  {"data": {"name": "ann"}, "transform": [{"filter": "datum.p == 'base'"}],
   "mark": {"type": "text", "fontSize": 15, "baseline": "middle", "align": "center"},
   "encoding": {"text": {"field": "label", "type": "nominal"}}},
  {"data": {"values": [{"t": 1.33, "c": 462, "label": "SiO₂"}]},
   "mark": {"type": "text", "fontSize": 26, "fontWeight": "bold", "baseline": "middle", "align": "left"},
   "encoding": {"text": {"field": "label", "type": "nominal"}}}
]
}
],
"resolve": {"scale": {"color": "independent", "shape": "independent", "strokeDash": "independent", "x": "independent", "y": "independent"}, "legend": {"color": "independent", "shape": "independent", "strokeDash": "independent"}}
}
